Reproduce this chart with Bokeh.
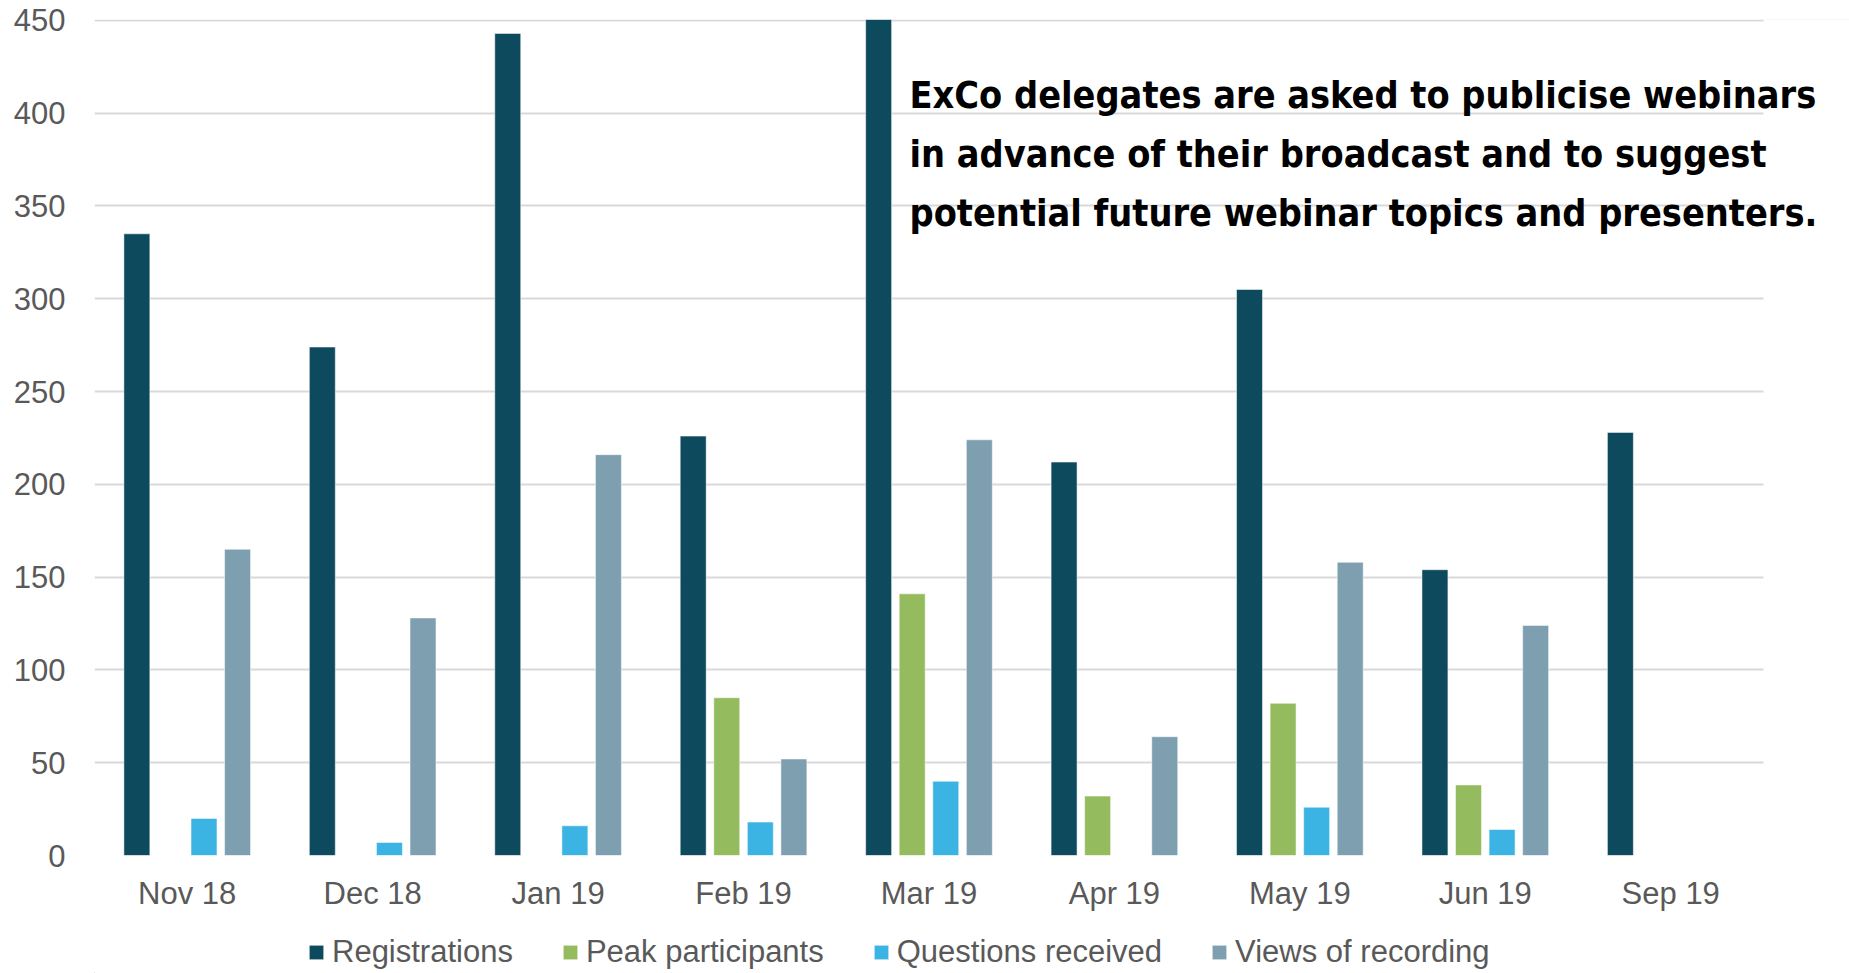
from bokeh.plotting import figure
from bokeh.layouts import column
from bokeh.models import Range1d, Legend, LegendItem, Label, ColumnDataSource, FixedTicker, BoxAnnotation
from bokeh.embed import file_html
from bokeh.resources import INLINE

nan = float("nan")
months = ["Nov 18", "Dec 18", "Jan 19", "Feb 19", "Mar 19", "Apr 19", "May 19", "Jun 19", "Sep 19"]
registrations = [335, 274, 443, 226, 452, 212, 305, 154, 228]
peak_participants = [nan, nan, nan, 85, 141, 32, 82, 38, nan]
questions_received = [20, 7, 16, 18, 40, nan, 26, 14, nan]
views_of_recording = [165, 128, 216, 52, 224, 64, 158, 124, nan]
y_ticks = [0, 50, 100, 150, 200, 250, 300, 350, 400, 450]
note_lines = [
    "ExCo delegates are asked to publicise webinars",
    "in advance of their broadcast and to suggest",
    "potential future webinar topics and presenters.",
]

series = [
    ("Registrations", registrations, "#0E4A5E"),
    ("Peak participants", peak_participants, "#94BC5E"),
    ("Questions received", questions_received, "#3BB3E3"),
    ("Views of recording", views_of_recording, "#7D9FB0"),
]

n = len(months)
centers = [i + 0.5 for i in range(n)]

W = 1849
p = figure(width=W, height=923, x_range=Range1d(0, 9.464), y_range=Range1d(0, 450.5),
           output_backend="svg", toolbar_location=None,
           min_border_left=94, min_border_right=0, min_border_top=19, min_border_bottom=68)
p.outline_line_color = None
p.background_fill_color = "white"
p.border_fill_color = "white"

offsets = [-0.2715, -0.0905, 0.0905, 0.2715]
for (name, vals, color), off in zip(series, offsets):
    src = ColumnDataSource(dict(x=[c + off for c in centers], top=vals))
    p.vbar(x="x", top="top", width=0.14, source=src,
           fill_color=color, line_color="white", line_width=1, line_alpha=0.5)

p.yaxis.ticker = y_ticks
p.xaxis.ticker = FixedTicker(ticks=centers)
p.xaxis.major_label_overrides = {c: m for c, m in zip(centers, months)}
for ax in (p.xaxis[0], p.yaxis[0]):
    ax.axis_line_color = None
    ax.major_tick_line_color = None
    ax.minor_tick_line_color = None
    ax.major_label_text_font = "Liberation Sans"
    ax.major_label_text_font_size = "31px"
    ax.major_label_text_color = "#595959"
p.yaxis.major_label_standoff = 23
p.xaxis.major_label_standoff = 14
p.xgrid.grid_line_color = None
p.ygrid.grid_line_color = "#D9D9D9"
p.ygrid.grid_line_width = 2

# gridlines stop after the last category
p.add_layout(BoxAnnotation(left=n, fill_color="white", fill_alpha=1, line_color=None))

note_y = [409.9, 378.1, 346.4]
for txt, yy in zip(note_lines, note_y):
    p.add_layout(Label(x=4.395, y=yy, text=txt, text_font="DejaVu Sans Condensed",
                       text_font_style="bold", text_font_size="37.5px", text_color="black",
                       text_baseline="alphabetic", text_align="left"))

# legend strip below the chart
q = figure(width=W, height=50, x_range=Range1d(0, W), y_range=Range1d(0, 50),
           output_backend="svg", toolbar_location=None,
           min_border_left=0, min_border_right=0, min_border_top=0, min_border_bottom=0)
q.axis.visible = False
q.grid.grid_line_color = None
q.outline_line_color = None
q.background_fill_color = "white"
q.border_fill_color = "white"

items = []
for (name, vals, color) in series:
    r = q.vbar(x=[-500], top=[1], width=1, fill_color=color,
               line_color="white", line_width=1, line_alpha=0.5)
    items.append(LegendItem(label=name, renderers=[r]))

legend = Legend(items=items, orientation="horizontal", location=(213, 3),
                glyph_width=18, glyph_height=18, label_standoff=7, spacing=48,
                padding=0, margin=0, border_line_alpha=0, background_fill_alpha=0,
                label_text_font="Liberation Sans", label_text_font_size="31px",
                label_text_color="#595959")
q.add_layout(legend, "center")

open("out.html", "w").write(file_html(column(p, q), INLINE))
